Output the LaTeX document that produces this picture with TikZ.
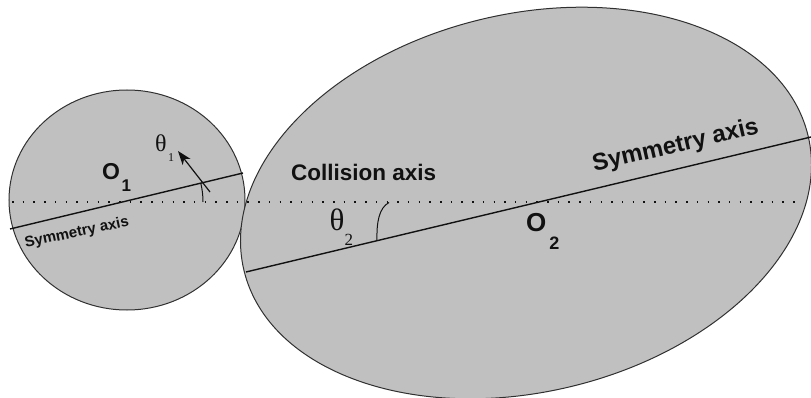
\documentclass[tikz,border=0pt]{standalone}
\usepackage{fontspec}
\setmainfont{Liberation Sans}
\newfontfamily\serifgreek{Liberation Serif}
\usetikzlibrary{arrows.meta}
\definecolor{bodyfill}{HTML}{C0C0C0}
\definecolor{edgecol}{HTML}{303030}
\definecolor{inkcol}{HTML}{111111}
\begin{document}
\begin{tikzpicture}[x=1pt,y=-1pt,
  body/.style={fill=bodyfill, draw=edgecol, line width=1pt},
  axisline/.style={draw=inkcol, line width=1.4pt},
  collide/.style={draw=inkcol, line width=1.5pt, dash pattern=on 1.5pt off 9.2pt},
  thinline/.style={draw=inkcol, line width=1pt},
  boldlbl/.style={inner sep=0pt, text=inkcol, font=\bfseries\fontsize{22.5}{22.5}\selectfont},
  greeklbl/.style={inner sep=0pt, anchor=base west, text=inkcol},
 ]
\useasboundingbox (0,0) rectangle (811,398);
% bodies
\path[body] (127,200) ellipse [x radius=118pt, y radius=110pt];
\path[body, rotate around={13.4:(526,203)}] (526,203) ellipse [x radius=290pt, y radius=189pt];
% axes
\coordinate (CL) at (12,202);
\coordinate (CR) at (802,202);
\coordinate (S1a) at (10,229);
\coordinate (S1b) at (243,173);
\coordinate (S2a) at (246,272);
\coordinate (S2b) at (811,137);
\draw[collide] (CL) -- (CR);
\draw[axisline] (S1a) -- (S1b);
\draw[axisline] (S2a) -- (S2b);
% angle marks
\coordinate (A1s) at (203,202);
\draw[thinline] (A1s) arc[start angle=0, end angle=13.5, radius=81pt];
\coordinate (R1a) at (210,192);
\coordinate (R1b) at (178,151);
\draw[thinline, line width=1.2pt, -{Stealth[length=14pt,width=10pt,inset=4pt]}] (R1a) -- (R1b);
\coordinate (A2s) at (377,241);
\coordinate (A2e) at (389,202.5);
\draw[thinline] (A2s) .. controls (376.5,222) and (379,208) .. (A2e);
% labels
\node[anchor=base west, inner sep=0pt, text=inkcol, font=\bfseries\fontsize{23}{23}\selectfont] (O1) at (102,180)
  {O\kern1.5pt\raisebox{-11.7pt}{\fontsize{17}{17}\selectfont 1}};
\node[anchor=base west, inner sep=0pt, text=inkcol, font=\bfseries\fontsize{26}{26}\selectfont] (O2) at (526,231)
  {O\kern3pt\raisebox{-18pt}{\fontsize{18}{18}\selectfont 2}};
\node[greeklbl, font=\serifgreek\fontsize{24}{24}\selectfont] (T1) at (155,151.5)
  {θ\kern1.5pt\raisebox{-10pt}{\fontsize{12}{12}\selectfont 1}};
\node[greeklbl, font=\serifgreek\fontsize{31}{31}\selectfont] (T2) at (329.5,230)
  {θ\raisebox{-15pt}{\fontsize{17}{17}\selectfont 2}};
\node[boldlbl, anchor=base] (CA) at (363.7,181) {Collision axis};
\node[inner sep=0pt, text=inkcol, anchor=base, rotate=12, font=\bfseries\fontsize{15}{15}\selectfont] (SA1) at (77.7,236.7) {Symmetry axis};
\node[inner sep=0pt, text=inkcol, anchor=base, rotate=13, font=\bfseries\fontsize{24}{24}\selectfont] (SA2) at (677,152.5) {Symmetry axis};
\end{tikzpicture}
\end{document}
